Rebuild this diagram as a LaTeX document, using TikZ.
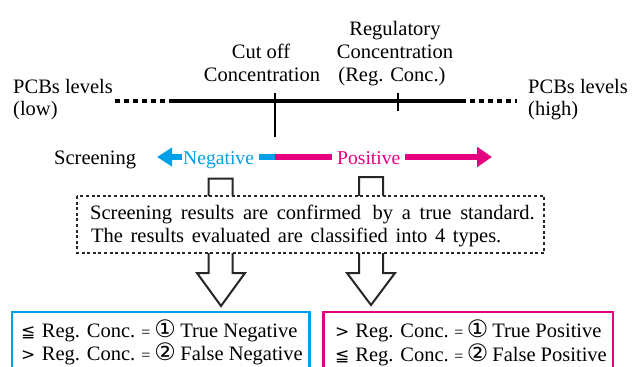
\documentclass[tikz,border=0pt]{standalone}
\usepackage{fontspec}
\setmainfont{Liberation Serif}
\newfontfamily\symf{DejaVu Sans}
\usetikzlibrary{arrows.meta}
\definecolor{cy}{HTML}{00A0E9}
\definecolor{mg}{HTML}{E4007F}
\newcommand{\myleqq}{{\symf\fontsize{17}{17}\selectfont ≦}}
\newcommand{\mygtr}{{\symf\fontsize{17}{17}\selectfont >}}
\newcommand{\myeq}{{\fontsize{16}{16}\selectfont =}}
\newcommand{\cone}{{\symf\fontsize{24}{24}\selectfont ①}}
\newcommand{\ctwo}{{\symf\fontsize{24}{24}\selectfont ②}}
\newcommand{\widesp}{\spaceskip=7.6pt\relax}
\newcommand{\widerspace}{\spaceskip=8.7pt\relax}
\begin{document}
\begin{tikzpicture}[x=1pt,y=-1pt,
  txt/.style={inner sep=0pt, anchor=base west, font=\fontsize{20.5}{22}\selectfont},
  ctxt/.style={inner sep=0pt, anchor=base, font=\fontsize{20.5}{22}\selectfont},
  coltxt/.style={inner sep=0pt, anchor=base west, font=\fontsize{19.6}{22}\selectfont},
  axisdots/.style={line width=3.3pt, dash pattern=on 5pt off 4pt},
  axisline/.style={line width=3.5pt},
  tick/.style={line width=1.6pt},
  colbar/.style={line width=5.7pt},
  hollow/.style={draw=black!85, line width=2pt, fill=white, line join=miter},
  confbox/.style={draw=black!85, line width=1.8pt, dash pattern=on 3pt off 2.6pt, fill=white},
  resbox/.style={line width=2.5pt, fill=white}]
\useasboundingbox (0,0) rectangle (633,367);
\clip (0,0) rectangle (633,367);
% axis
\coordinate (d0) at (115,101);
\coordinate (a0) at (171,101);
\coordinate (a1) at (461,101);
\coordinate (d1) at (517,101);
\coordinate (cutT) at (275,93);
\coordinate (cutB) at (275,137);
\coordinate (regT) at (398,93);
\coordinate (regB) at (398,111);
\draw[axisdots] (d0) -- (a0);
\draw[axisdots] (a1) -- (d1);
\draw[axisline] (a0) -- (a1);
\draw[tick] (cutT) -- (cutB);
\draw[tick] (regT) -- (regB);
% labels
\node[txt] (lowA) at (13,93) {PCBs levels};
\node[txt] (lowB) at (13,115) {(low)};
\node[txt] (highA) at (528,93) {PCBs levels};
\node[txt] (highB) at (528,115) {(high)};
\node[ctxt] (cutA) at (261,58) {Cut off};
\node[ctxt] (cutC) at (262,81.5) {Concentration};
\node[ctxt] (regA) at (395,35) {Regulatory};
\node[ctxt] (regC) at (395,58) {Concentration};
\node[ctxt] (regD) at (392,81.5) {(Reg. Conc.)};
% screening row
\node[txt] (scr) at (54,164) {Screening};
\node[coltxt, text=cy] (neg) at (183,164) {Negative};
\node[coltxt, text=mg] (pos) at (337,164) {Positive};
\coordinate (ntip) at (157,157);
\coordinate (nst) at (182,157);
\coordinate (cb0) at (259,157);
\coordinate (cb1) at (275,157);
\coordinate (mb1) at (332,157);
\coordinate (ps0) at (405,157);
\coordinate (ptip) at (492,157);
\draw[cy, colbar, -{Triangle[length=15pt,width=18pt]}] (nst) -- (ntip);
\draw[cy, colbar] (cb0) -- (cb1);
\draw[mg, colbar] (cb1) -- (mb1);
\draw[mg, colbar, -{Triangle[length=15pt,width=19.5pt]}] (ps0) -- (ptip);
% hollow arrows
\draw[hollow] (208.5,178.5) -- (232.5,178.5) -- (232.5,273) -- (245,273) -- (221,306) -- (197,273) -- (208.5,273) -- cycle;
\draw[hollow] (359,177) -- (383,177) -- (383,273) -- (395,273) -- (371,305) -- (347,273) -- (359,273) -- cycle;
% confirmation box
\draw[confbox] (77,196) rectangle (544,253);
\node[txt] (conf1) at (90,219) {\widerspace Screening results are confirmed\hspace{7.6pt}\hspace{4pt}by a true standard.};
\node[txt] (conf2) at (91,242) {\widesp The results evaluated are classified into 4 types.};
% result boxes
\draw[resbox, draw=cy] (12,312) rectangle (309.5,400);
\draw[resbox, draw=mg] (323.5,312) rectangle (613,400);
\node[txt] (n1) at (21,337) {\myleqq\hspace{6.5pt}Reg. Conc.\hspace{6pt}\myeq\hspace{4pt}\cone\hspace{4.5pt}True Negative};
\node[txt] (n2) at (21,360.5) {\mygtr\hspace{6.5pt}Reg. Conc.\hspace{6pt}\myeq\hspace{4pt}\ctwo\hspace{4.5pt}False Negative};
\node[txt] (p1) at (335,337) {\mygtr\hspace{6pt}Reg. Conc.\hspace{5.5pt}\myeq\hspace{3.5pt}\cone\hspace{4pt}True Positive};
\node[txt] (p2) at (335,361) {\myleqq\hspace{6pt}Reg. Conc.\hspace{5.5pt}\myeq\hspace{3.5pt}\ctwo\hspace{4pt}False Positive};
\end{tikzpicture}
\end{document}
